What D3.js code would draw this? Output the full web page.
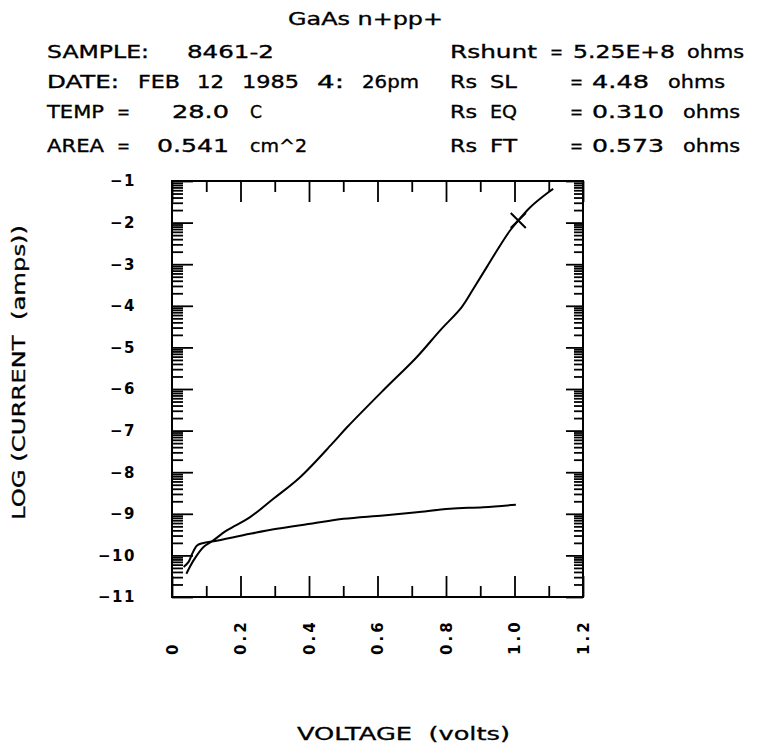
<!DOCTYPE html>
<html><head><meta charset="utf-8">
<script src="https://cdn.jsdelivr.net/npm/d3@7"></script>
<style>body{margin:0;background:#fff} text{white-space:pre}</style>
</head><body><svg id="c" width="775" height="745"></svg>
<script>
// ---- data ----
const title = "GaAs n+pp+";
const infoLeft = [["SAMPLE:", "8461-2"], ["DATE:", "FEB", "12", "1985", "4:", "26pm"], ["TEMP", "=", "28.0", "C"], ["AREA", "=", "0.541", "cm^2"]];
const infoRight = [["Rshunt", "=", "5.25E+8", "ohms"], ["Rs", "SL", "=", "4.48", "ohms"], ["Rs", "EQ", "=", "0.310", "ohms"], ["Rs", "FT", "=", "0.573", "ohms"]];
const xTickValues = [0, 0.2, 0.4, 0.6, 0.8, 1.0, 1.2];
const xTickLabels = ["0", "0.2", "0.4", "0.6", "0.8", "1.0", "1.2"];
const yTickValues = [-1, -2, -3, -4, -5, -6, -7, -8, -9, -10, -11];
const xTitle = "VOLTAGE  (volts)";
const yTitle = "LOG (CURRENT  (amps))";
// steep forward curve: voltage (V) and log10(current)
const curveAV = [0.042, 0.063, 0.092, 0.117, 0.160, 0.228, 0.296, 0.374, 0.467, 0.511, 0.617, 0.715, 0.783, 0.846, 0.880, 0.919, 0.958, 0.987, 1.011, 1.046, 1.099, 1.113];
const curveALog = [-10.44, -10.12, -9.80, -9.66, -9.40, -9.08, -8.64, -8.12, -7.32, -6.92, -6.03, -5.23, -4.59, -4.03, -3.59, -3.07, -2.55, -2.19, -1.95, -1.63, -1.27, -1.19];
// flat curve
const curveBV = [0.034, 0.049, 0.059, 0.073, 0.092, 0.122, 0.228, 0.306, 0.404, 0.501, 0.617, 0.715, 0.812, 0.909, 1.004];
const curveBLog = [-10.28, -10.15, -9.96, -9.76, -9.70, -9.66, -9.48, -9.36, -9.24, -9.12, -9.04, -8.96, -8.88, -8.84, -8.78];
const markerV = [1.011];
const markerLog = [-1.95];

// ---- layout ----
const svg = d3.select("#c");
const L = 172, R = 583, T = 181, B = 597;
const x = d3.scaleLinear().domain([0, 1.2]).range([L, R]);
const y = d3.scaleLinear().domain([-11, -1]).range([B, T]);
const font = "'DejaVu Sans', sans-serif";
const pitch = 15;

function word(s, px, py, size) {
  const w = s === "=" ? 13 : s.length * pitch - 3;
  svg.append("text").attr("x", px).attr("y", py).attr("font-family", font).attr("font-size", size || 18)
    .attr("stroke", "#000").attr("stroke-width", 0.35)
    .attr("textLength", w).attr("lengthAdjust", "spacingAndGlyphs").text(s);
}

// header
svg.append("text").attr("x", 288).attr("y", 25).attr("font-family", font).attr("font-size", 18)
  .attr("stroke", "#000").attr("stroke-width", 0.35)
  .attr("textLength", 155).attr("lengthAdjust", "spacingAndGlyphs").text(title);
const baselines = [58, 88, 118, 152];
const leftX = [[47, 187], [47, 138, 197, 242, 317, 362], [47, 117, 172, 250], [47, 117, 157, 250]];
const rightX = [[450, 550, 573, 687], [450, 490, 570, 592, 668], [450, 490, 570, 592, 683], [450, 490, 570, 592, 683]];
infoLeft.forEach((ws, i) => ws.forEach((s, j) => word(s, leftX[i][j], baselines[i])));
infoRight.forEach((ws, i) => ws.forEach((s, j) => word(s, rightX[i][j], baselines[i])));

// ticks
const minorY = [];
for (let n = -11; n < -1; n++) for (let k = 2; k <= 9; k++) minorY.push(n + Math.log10(k));
const minorX = d3.range(1, 12, 2).map(i => i / 10);

const tickStyle = g => { g.select(".domain").remove(); g.selectAll("line").attr("stroke", "#000").attr("stroke-width", 1.8); };

svg.append("g").attr("transform", `translate(${L},0)`)
  .call(d3.axisLeft(y).tickValues(yTickValues).tickSize(-21).tickPadding(36).tickFormat(d3.format("d")))
  .call(tickStyle)
  .call(g => g.selectAll("text").attr("font-family", font).attr("font-size", 15).attr("font-weight", "bold")
    .attr("letter-spacing", 1.5).attr("fill", "#000"));
svg.append("g").attr("transform", `translate(${L},0)`)
  .call(d3.axisLeft(y).tickValues(minorY).tickSize(-11).tickFormat(""))
  .call(tickStyle);
svg.append("g").attr("transform", `translate(${R},0)`)
  .call(d3.axisRight(y).tickValues(yTickValues).tickSize(-17).tickFormat(""))
  .call(tickStyle);
svg.append("g").attr("transform", `translate(${R},0)`)
  .call(d3.axisRight(y).tickValues(minorY).tickSize(-9).tickFormat(""))
  .call(tickStyle);
svg.append("g").attr("transform", `translate(0,${B})`)
  .call(d3.axisBottom(x).tickValues(xTickValues).tickSize(-21).tickFormat(""))
  .call(tickStyle);
svg.append("g").attr("transform", `translate(0,${B})`)
  .call(d3.axisBottom(x).tickValues(minorX).tickSize(-11).tickFormat(""))
  .call(tickStyle);
svg.append("g").attr("transform", `translate(0,${T})`)
  .call(d3.axisTop(x).tickValues(xTickValues).tickSize(-21).tickFormat(""))
  .call(tickStyle);
svg.append("g").attr("transform", `translate(0,${T})`)
  .call(d3.axisTop(x).tickValues(minorX).tickSize(-11).tickFormat(""))
  .call(tickStyle);

// frame
svg.append("rect").attr("x", L).attr("y", T).attr("width", R - L).attr("height", B - T)
  .attr("fill", "none").attr("stroke", "#000").attr("stroke-width", 2);

// x tick labels (rotated)
svg.append("g").selectAll("text").data(xTickValues).join("text")
  .attr("transform", d => `translate(${x(d) + 5.5},655) rotate(-90)`)
  .attr("font-family", font).attr("font-size", 15).attr("font-weight", "bold").attr("letter-spacing", 3)
  .text((d, i) => xTickLabels[i]);

// axis titles
svg.append("text").attr("x", 297).attr("y", 740).attr("font-family", font).attr("font-size", 17)
  .attr("stroke", "#000").attr("stroke-width", 0.3)
  .attr("textLength", 213).attr("lengthAdjust", "spacingAndGlyphs").text(xTitle);
svg.append("text").attr("transform", "translate(25,225) rotate(-90)").attr("text-anchor", "end")
  .attr("font-family", font).attr("font-size", 17).attr("stroke", "#000").attr("stroke-width", 0.3)
  .attr("textLength", 295).attr("lengthAdjust", "spacingAndGlyphs").text(yTitle);

// curves
const line = d3.line().x(d => x(d[0])).y(d => y(d[1])).curve(d3.curveCatmullRom);
svg.append("path").datum(curveAV.map((v, i) => [v, curveALog[i]])).attr("d", line)
  .attr("fill", "none").attr("stroke", "#000").attr("stroke-width", 2);
svg.append("path").datum(curveBV.map((v, i) => [v, curveBLog[i]])).attr("d", line)
  .attr("fill", "none").attr("stroke", "#000").attr("stroke-width", 2);
svg.append("g").selectAll("path").data(markerV).join("path")
  .attr("transform", (d, i) => `translate(${x(d)},${y(markerLog[i])})`)
  .attr("d", d3.symbol(d3.symbolX, 150)).attr("fill", "none").attr("stroke", "#000").attr("stroke-width", 2);
</script></body></html>
